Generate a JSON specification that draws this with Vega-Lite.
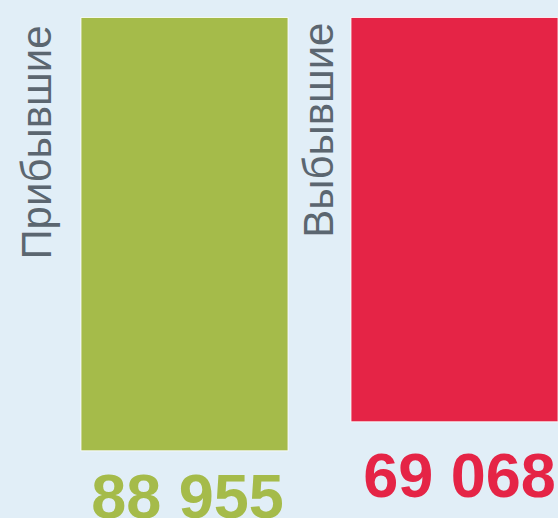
{
  "$schema": "https://vega.github.io/schema/vega-lite/v6.json",
  "width": 558,
  "height": 518,
  "padding": 0,
  "autosize": {"type": "none"},
  "background": "#e1eef7",
  "config": {"view": {"stroke": null}},
  "data": {
    "values": [
      {"cat": "Прибывшие", "value": 88955, "label": "88 955"},
      {"cat": "Выбывшие", "value": 69068, "label": "69 068"}
    ]
  },
  "encoding": {
    "x": {
      "field": "cat",
      "type": "nominal",
      "axis": null,
      "scale": {"domain": ["Прибывшие", "Выбывшие"], "paddingInner": 0.2333, "paddingOuter": 0.15, "align": 1}
    }
  },
  "layer": [
    {
      "mark": {"type": "bar", "stroke": "white", "strokeWidth": 1, "strokeOpacity": 0.8},
      "encoding": {
        "y": {
          "field": "value",
          "type": "quantitative",
          "axis": null,
          "scale": {"domain": [-220000, 135000], "reverse": true, "nice": false, "zero": false}
        },
        "y2": {"datum": -208000},
        "color": {
          "field": "cat",
          "type": "nominal",
          "legend": null,
          "scale": {"domain": ["Прибывшие", "Выбывшие"], "range": ["#a5bb4a", "#e52446"]}
        }
      }
    },
    {
      "transform": [{"filter": "datum.cat === 'Прибывшие'"}],
      "mark": {"type": "text", "angle": 270, "align": "right", "baseline": "alphabetic", "dx": -8, "dy": -30, "font": "Liberation Sans", "fontSize": 42, "color": "#5b6670"},
      "encoding": {
        "x": {"field": "cat", "type": "nominal", "bandPosition": 0},
        "y": {"datum": -208000},
        "text": {"field": "cat"}
      }
    },
    {
      "transform": [{"filter": "datum.cat === 'Выбывшие'"}],
      "mark": {"type": "text", "angle": 270, "align": "right", "baseline": "alphabetic", "dx": -5, "dy": -18, "font": "Liberation Sans", "fontSize": 42, "color": "#5b6670"},
      "encoding": {
        "x": {"field": "cat", "type": "nominal", "bandPosition": 0},
        "y": {"datum": -208000},
        "text": {"field": "cat"}
      }
    },
    {
      "transform": [{"filter": "datum.cat === 'Прибывшие'"}],
      "mark": {"type": "text", "align": "center", "baseline": "alphabetic", "dx": 3, "dy": 67, "font": "Liberation Sans", "fontWeight": "bold", "fontSize": 63, "color": "#a5bb4a"},
      "encoding": {
        "y": {"field": "value", "type": "quantitative"},
        "text": {"field": "label"}
      }
    },
    {
      "transform": [{"filter": "datum.cat === 'Выбывшие'"}],
      "mark": {"type": "text", "align": "center", "baseline": "alphabetic", "dx": 5, "dy": 75, "font": "Liberation Sans", "fontWeight": "bold", "fontSize": 63, "color": "#e52446"},
      "encoding": {
        "y": {"field": "value", "type": "quantitative"},
        "text": {"field": "label"}
      }
    }
  ]
}
